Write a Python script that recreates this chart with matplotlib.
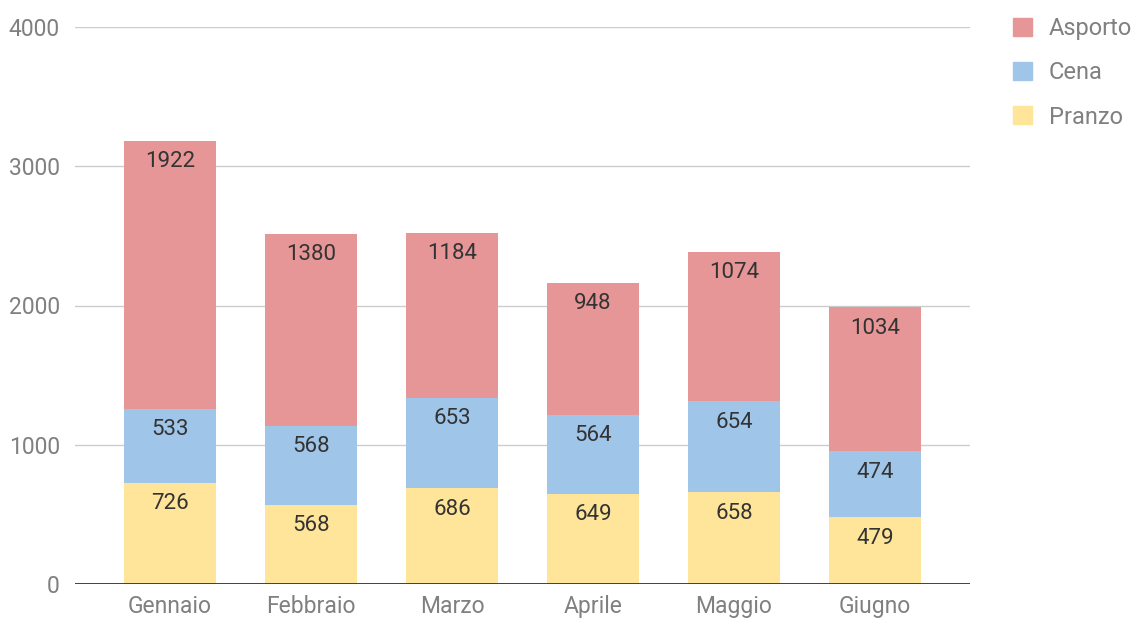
import matplotlib
matplotlib.use("Agg")
import matplotlib.pyplot as plt
from matplotlib.patches import Patch

months = ["Gennaio", "Febbraio", "Marzo", "Aprile", "Maggio", "Giugno"]
pranzo = [726, 568, 686, 649, 658, 479]
cena = [533, 568, 653, 564, 654, 474]
asporto = [1922, 1380, 1184, 948, 1074, 1034]
yticks = [0, 1000, 2000, 3000, 4000]

series = [("Pranzo", pranzo, "#FFE599"), ("Cena", cena, "#9FC5E8"), ("Asporto", asporto, "#E69696")]

plt.rcParams['font.family'] = ['Roboto', 'DejaVu Sans']
fig = plt.figure(figsize=(11.39, 6.18), dpi=100)
ax = fig.add_axes([75/1139, 34/618, (970-75)/1139, (591-34)/618])

x = list(range(len(months)))
bottom = [0]*len(months)
for name, vals, col in series:
    ax.bar(x, vals, width=0.65, bottom=bottom, color=col, zorder=3, label=name)
    for xi, b, v in zip(x, bottom, vals):
        ax.annotate(str(v), (xi, b + v), xytext=(0, -15), textcoords='offset points',
                    ha='center', va='center', fontsize=16, color='#333333', zorder=4)
    bottom = [b + v for b, v in zip(bottom, vals)]

ax.set_xlim(-0.674, 5.674)
ax.set_ylim(0, 4000)
ax.set_yticks(yticks)
ax.set_yticklabels([str(t) for t in yticks])
ax.set_xticks(x)
ax.set_xticklabels(months)
for t in yticks[1:]:
    ax.axhline(t, color='#CCCCCC', lw=1, zorder=1)
ax.axhline(0, color='#333333', lw=1.3, zorder=5)
for s in ax.spines.values():
    s.set_visible(False)
ax.tick_params(axis='both', length=0, labelsize=16.5, colors='#808080')
ax.tick_params(axis='y', pad=11)
ax.tick_params(axis='x', pad=8)

handles = [Patch(color=c, label=n) for n, _, c in reversed(series)]
fig.legend(handles=handles, loc='upper left', bbox_to_anchor=(1013/1139, 1 - 17/618),
           frameon=False, fontsize=17, labelcolor='#808080', handlelength=0.82, handleheight=0.82,
           handletextpad=0.7, labelspacing=0.9, borderpad=0, borderaxespad=0)

fig.savefig("out.png", dpi=100)
